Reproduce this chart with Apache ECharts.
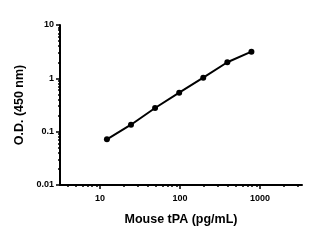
<!DOCTYPE html>
<html><head><meta charset="utf-8">
<script src="https://cdn.jsdelivr.net/npm/echarts@6/dist/echarts.min.js"></script>
<style>html,body{margin:0;padding:0;background:#fff}#c{width:336px;height:250px}</style>
</head><body><div id="c"></div>
<script>
const concentrations = [12.2, 24.4, 48.8, 97.7, 195.3, 390.6, 781.25];
const odValues = [0.072, 0.135, 0.278, 0.538, 1.03, 2.0, 3.16];
const xMajorTicks = [10, 100, 1000];
const xMinorTicks = [4,5,6,7,8,9,20,30,40,50,60,70,80,90,200,300,400,500,600,700,800,900,2000,3000];
const yMajorTicks = [0.01, 0.1, 1, 10];
const yMinorTicks = [0.02,0.03,0.04,0.05,0.06,0.07,0.08,0.09,0.2,0.3,0.4,0.5,0.6,0.7,0.8,0.9,2,3,4,5,6,7,8,9];
const xName = 'Mouse tPA (pg/mL)';
const yName = 'O.D. (450 nm)';

const font = {fontFamily: 'Liberation Sans', fontWeight: 'bold', color: '#000'};
const xMin = Math.pow(10, 0.5), xMax = Math.pow(10, 3.525);
const chart = echarts.init(document.getElementById('c'), null, {renderer: 'canvas'});
chart.setOption({
  animation: false,
  grid: {left: 60, right: 34, top: 25, bottom: 65},
  xAxis: [{
    type: 'log', logBase: 10, min: xMin, max: xMax,
    name: xName, nameLocation: 'middle', nameGap: 28,
    nameTextStyle: Object.assign({fontSize: 12.5}, font),
    axisLine: {lineStyle: {color: '#000', width: 2}},
    axisTick: {show: true, length: 4, lineStyle: {color: '#000', width: 1.5}, customValues: xMajorTicks},
    axisLabel: Object.assign({fontSize: 9, margin: 9, customValues: xMajorTicks, formatter: v => String(v)}, font),
    splitLine: {show: false}
  }, {
    type: 'log', logBase: 10, min: xMin, max: xMax, position: 'bottom',
    axisLine: {show: false},
    axisTick: {show: true, length: 2, lineStyle: {color: '#000', width: 1.5}, customValues: xMinorTicks},
    axisLabel: {show: false},
    splitLine: {show: false}
  }],
  yAxis: [{
    type: 'log', logBase: 10, min: 0.01, max: 10,
    name: yName, nameLocation: 'middle', nameGap: 29,
    nameTextStyle: Object.assign({fontSize: 12.5}, font),
    axisLine: {show: true, lineStyle: {color: '#000', width: 2}},
    axisTick: {show: true, length: 4, lineStyle: {color: '#000', width: 1.5}, customValues: yMajorTicks},
    axisLabel: Object.assign({fontSize: 9, margin: 6, customValues: yMajorTicks, formatter: v => String(v)}, font),
    splitLine: {show: false}
  }, {
    type: 'log', logBase: 10, min: 0.01, max: 10, position: 'left',
    axisLine: {show: false},
    axisTick: {show: true, length: 2, lineStyle: {color: '#000', width: 1.5}, customValues: yMinorTicks},
    axisLabel: {show: false},
    splitLine: {show: false}
  }],
  series: [{
    type: 'line',
    data: concentrations.map((c, i) => [c, odValues[i]]),
    symbol: 'circle', symbolSize: 6,
    lineStyle: {color: '#000', width: 2},
    itemStyle: {color: '#000'}
  }]
});
</script></body></html>
